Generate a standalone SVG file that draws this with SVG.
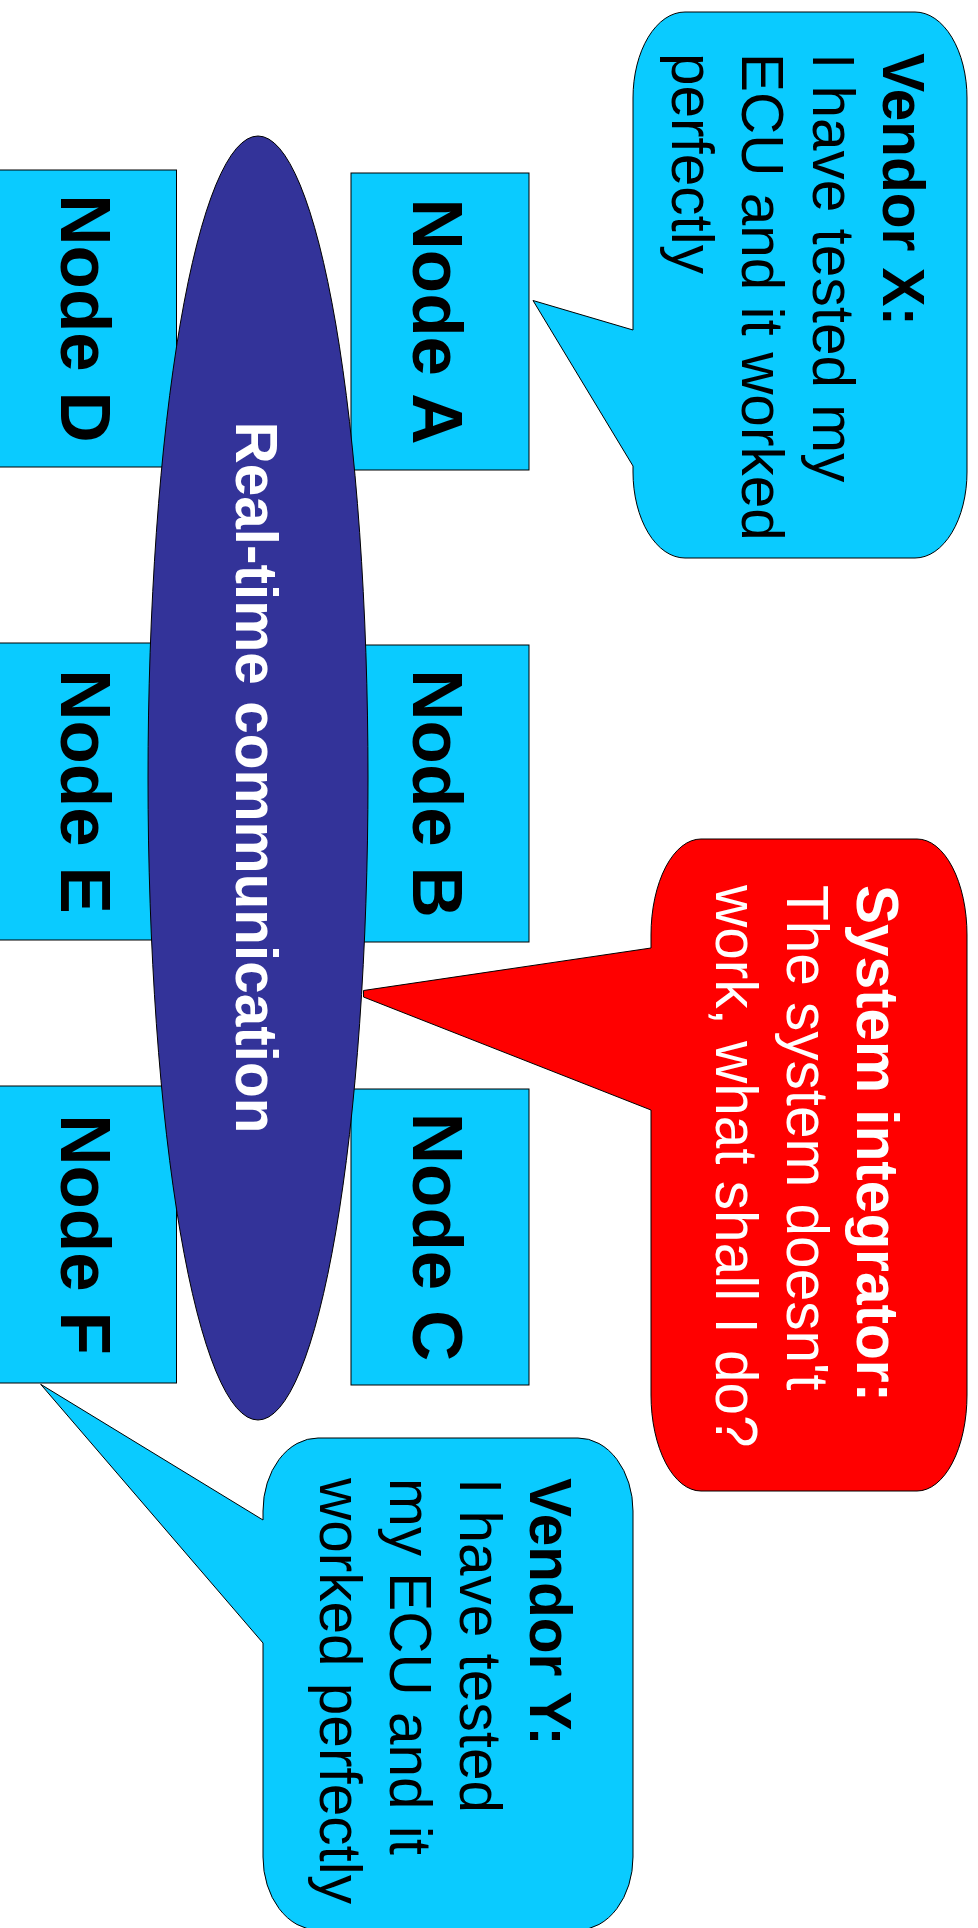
<svg xmlns="http://www.w3.org/2000/svg" width="978" height="1928" viewBox="0 0 978 1928">
<style>
.node{fill:#0acbff;stroke:#000;stroke-width:1}
.bus{fill:#333399;stroke:#000;stroke-width:1}
.red{fill:#ff0000;stroke:#000;stroke-width:1}
.nl{font-family:"Liberation Sans",Arial,sans-serif;font-weight:bold;font-size:71px;fill:#000;text-anchor:middle}
.ct{font-family:"Liberation Sans",Arial,sans-serif;font-size:58.5px;fill:#000}
.b{font-weight:bold}
.w{fill:#fff}
</style>
<g id="node-a"><rect class="node" x="351" y="173" width="178" height="297"/><text class="nl" transform="rotate(90)" x="321.5" y="-413">Node A</text></g>
<g id="node-b"><rect class="node" x="351" y="645" width="178" height="297"/><text class="nl" transform="rotate(90)" x="793.5" y="-413">Node B</text></g>
<g id="node-c"><rect class="node" x="351" y="1089" width="178" height="296"/><text class="nl" transform="rotate(90)" x="1237" y="-413">Node C</text></g>
<g id="node-d"><rect class="node" x="-1.5" y="170" width="178" height="297"/><text class="nl" transform="rotate(90)" x="318.5" y="-60.5">Node D</text></g>
<g id="node-e"><rect class="node" x="-1.5" y="643" width="178" height="297"/><text class="nl" transform="rotate(90)" x="791.5" y="-60.5">Node E</text></g>
<g id="node-f"><rect class="node" x="-1.5" y="1086" width="178" height="297"/><text class="nl" transform="rotate(90)" x="1234.5" y="-60.5">Node F</text></g>
<g id="bus"><ellipse class="bus" cx="258" cy="778" rx="110" ry="642"/><text transform="rotate(90)" x="777.5" y="-236" style="font-family:'Liberation Sans',Arial,sans-serif;font-weight:bold;font-size:58.5px;fill:#fff;text-anchor:middle">Real-time communication</text></g>
<g id="connectors"></g>
<g id="vendor-x">
<path class="node" d="M685,12 H915 A52 86 0 0 1 967,98 V472 A52 86 0 0 1 915,558 H685 A52 86 0 0 1 633,472 V466 L533,300.5 L633,330 V98 A52 86 0 0 1 685,12 Z"/>
<text class="ct" transform="rotate(90)"><tspan class="b" x="53" y="-883">Vendor X:</tspan><tspan x="53" y="-813">I have tested my</tspan><tspan x="53" y="-742">ECU and it worked</tspan><tspan x="53" y="-672">perfectly</tspan></text>
</g>
<g id="system-integrator">
<path class="red" d="M701,839 H917 A50 96 0 0 1 967,935 V1395 A50 96 0 0 1 917,1491 H701 A50 96 0 0 1 651,1395 V1110 L363.5,997 L363.5,990.5 L651,948 V935 A50 96 0 0 1 701,839 Z"/>
<text class="ct w" transform="rotate(90)"><tspan class="b" x="885" y="-856.5">System integrator:</tspan><tspan x="885" y="-786.5">The system doesn't</tspan><tspan x="885" y="-716">work, what shall I do?</tspan></text>
</g>
<g id="vendor-y">
<path class="node" d="M318,1438 H578 A55 73 0 0 1 633,1511 V1857 A55 73 0 0 1 578,1930 H318 A55 73 0 0 1 263,1857 V1643 L40.7,1384.3 L263,1520 V1511 A55 73 0 0 1 318,1438 Z"/>
<text class="ct" transform="rotate(90)"><tspan class="b" x="1478" y="-530">Vendor Y:</tspan><tspan x="1478" y="-460">I have tested</tspan><tspan x="1478" y="-390">my ECU and it</tspan><tspan x="1478" y="-320">worked perfectly</tspan></text>
</g>
</svg>
